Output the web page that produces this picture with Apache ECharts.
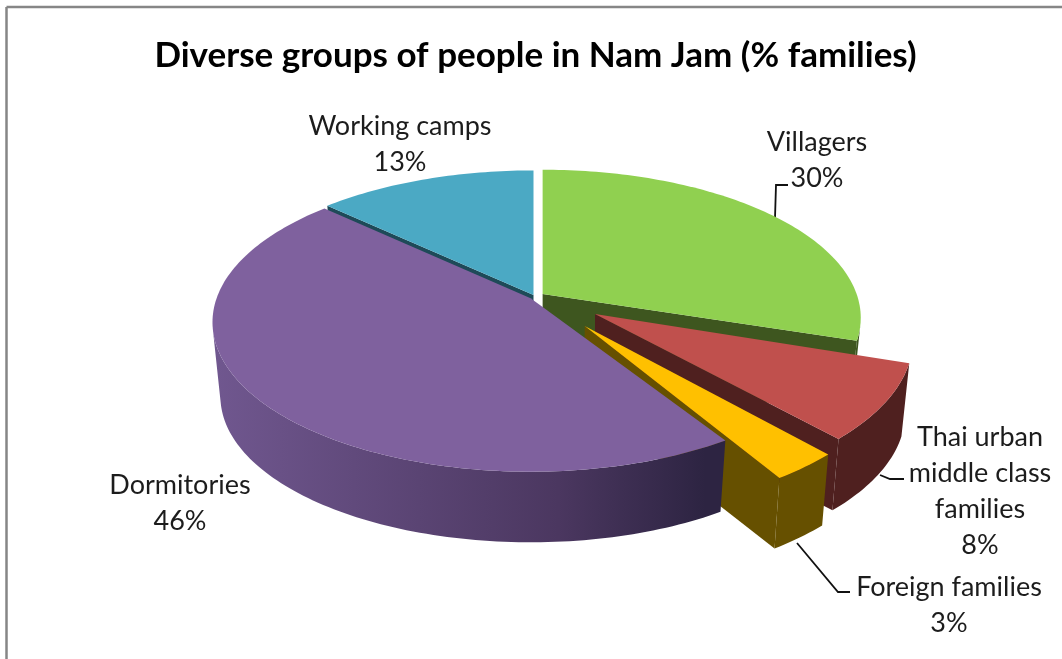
<!DOCTYPE html>
<html>
<head>
<meta charset="utf-8">
<style>html,body{margin:0;padding:0;background:#fff}#chart{width:1062px;height:659px}</style>
<script src="https://cdn.jsdelivr.net/npm/echarts@6/dist/echarts.min.js"></script>
</head>
<body>
<div id="chart"></div>
<script>
// Household groups, clockwise from twelve o'clock
const categories = ['Villagers', 'Thai urban\nmiddle class\nfamilies', 'Foreign families', 'Dormitories', 'Working camps'];
const shares = [30, 8, 3, 46, 13];
const topColors = ['#90d050', '#c0504d', '#ffc000', '#7f619e', '#4ba9c4'];
const sideColors = ['#3e561f', '#4f201f', '#665000', null, '#1e4a58'];
const explode = [0.03, 0.222, 0.25, 0.018, 0.012];
const labelCenters = [[817, 160], [980, 491], [949, 605], [180, 503], [400, 144.5]];
const paintOrder = [4, 0, 1, 2, 3];

// Perspective view of the pie: a disk seen from above and in front
const view = { cx: 535, cy: 296.5, a: 314, b: 145, k: 0.161, drop: 75, lowerScale: 0.975 };
const TAU = Math.PI * 2;

// Pulling a slice out shifts it sideways unscaled; depth still follows the perspective
function project(u, v, ou, ov, lower) {
  const s = lower ? view.lowerScale : 1;
  const shiftX = view.a * ou / (1 - view.k * ov);
  const x = view.a * u / (1 - view.k * v);
  const w = v + ov;
  return [view.cx + shiftX + s * x, view.cy + (lower ? view.drop : 0) + s * view.b * w / (1 - view.k * w)];
}
function area(p) {
  let t = 0;
  for (let i = 0; i < p.length; i++) {
    const q = p[(i + 1) % p.length];
    t += p[i][0] * q[1] - q[0] * p[i][1];
  }
  return t;
}

const total = shares.reduce((s, x) => s + x, 0);
let running = 0;
const spans = shares.map(x => {
  const span = [running / total * TAU, (running + x) / total * TAU];
  running += x;
  return span;
});

const dormWall = {
  type: 'linear', x: 215, y: 0, x2: 705, y2: 0, global: true,
  colorStops: [
    { offset: 0, color: '#70578f' },
    { offset: 0.7, color: '#4b3760' },
    { offset: 1, color: '#2d2442' }
  ]
};

function renderSlice(params, api) {
  const i = api.value(0);
  const [t0, t1] = spans[i];
  const mid = (t0 + t1) / 2;
  const ou = explode[i] * Math.sin(mid), ov = -explode[i] * Math.cos(mid);
  const at = (t, lower) => project(Math.sin(t), -Math.cos(t), ou, ov, lower);
  const apex = lower => project(0, 0, ou, ov, lower);
  const wallFill = sideColors[i] || dormWall;
  const children = [];

  // Radial walls, only where they face the viewer
  const startWall = [apex(false), at(t0, false), at(t0, true), apex(true)];
  if (area(startWall) < 0) children.push({ type: 'polygon', shape: { points: startWall }, style: { fill: wallFill } });
  const endWall = [apex(false), at(t1, false), at(t1, true), apex(true)];
  if (area(endWall) > 0) children.push({ type: 'polygon', shape: { points: endWall }, style: { fill: wallFill } });

  // Outer rim wall, limited to the part turned towards the viewer
  const steps = Math.max(8, Math.ceil((t1 - t0) / 0.02));
  let upper = [], lowerRun = [];
  const flush = () => {
    if (upper.length > 1) {
      children.push({ type: 'polygon', shape: { points: upper.concat(lowerRun.reverse()) }, style: { fill: wallFill } });
    }
    upper = []; lowerRun = [];
  };
  for (let s = 0; s < steps; s++) {
    const a = t0 + (t1 - t0) * s / steps, b = t0 + (t1 - t0) * (s + 1) / steps;
    const quad = [at(a, false), at(b, false), at(b, true), at(a, true)];
    if (area(quad) < 0) {
      if (!upper.length) { upper.push(quad[0]); lowerRun.push(quad[3]); }
      upper.push(quad[1]); lowerRun.push(quad[2]);
    } else flush();
  }
  flush();

  // Top face
  const top = [apex(false)];
  for (let s = 0; s <= steps; s++) top.push(at(t0 + (t1 - t0) * s / steps, false));
  children.push({ type: 'polygon', shape: { points: top }, style: { fill: topColors[i] } });

  return { type: 'group', children };
}

function renderLabel(params, api) {
  const i = api.value(0);
  return {
    type: 'text',
    style: {
      text: categories[i] + '\n' + shares[i] + '%',
      x: labelCenters[i][0], y: labelCenters[i][1],
      align: 'center', verticalAlign: 'middle',
      font: '27px Lato', lineHeight: 36, fill: '#1c1c1c'
    }
  };
}

const leaderLines = [
  [[775, 218], [776, 185], [788, 185]],
  [[880, 475], [890, 479], [904, 479]],
  [[797, 543], [838, 592], [850, 592]]
];
const frameLines = [
  [[6.5, 7], [1062, 7]],
  [[6.5, 7], [6.5, 659]]
];

const chart = echarts.init(document.getElementById('chart'));
chart.setOption({
  animation: false,
  backgroundColor: '#ffffff',
  title: {
    text: 'Diverse groups of people in Nam Jam (% families)',
    left: 530.5, top: 33, textAlign: 'center',
    textStyle: { fontFamily: 'Lato', fontWeight: 'bold', fontSize: 35, color: '#000000' }
  },
  graphic: [
    ...frameLines.map(points => ({ type: 'polyline', z: 1, shape: { points }, style: { stroke: '#868686', lineWidth: 2.5, fill: null } })),
    ...leaderLines.map(points => ({ type: 'polyline', z: 1, shape: { points }, style: { stroke: '#111111', lineWidth: 1.8, fill: null } }))
  ],
  series: [
    { type: 'custom', coordinateSystem: 'none', z: 2, silent: true, renderItem: renderSlice, data: paintOrder.map(i => [i]) },
    { type: 'custom', coordinateSystem: 'none', z: 3, silent: true, renderItem: renderLabel, data: categories.map((c, i) => [i]) }
  ]
});
</script>
</body>
</html>
